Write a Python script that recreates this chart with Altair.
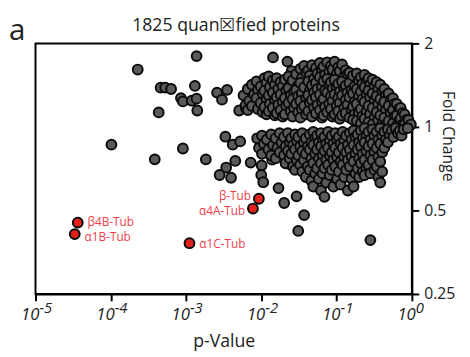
import altair as alt
import pandas as pd

FONT = "Open Sans"

# ---------------- data ----------------
# isolated grey proteins: p-value, fold change
out_p = [0.00138, 2.28e-4, 4.59e-4, 5.28e-4, 6.33e-4, 1.31e-3, 8.55e-4, 9.08e-4, 1.19e-3, 1.38e-3,
         4.33e-4, 1.41e-3, 2.58e-3, 3.51e-3, 3.0e-3, 1.02e-4, 9.08e-4, 3.84e-4, 1.83e-3, 3.33e-3,
         4.17e-3, 3.41e-3, 2.79e-3, 3.96e-3, 4.51e-3, 0.0143, 0.0222, 0.0253, 5.08e-3, 6.41e-3,
         6.22e-3, 5.24e-3, 7.22e-3, 0.0101, 9.97e-3, 0.0106, 0.0139, 0.0218, 0.0309, 0.0169,
         0.0201, 0.0294, 0.037, 0.0309, 0.281]
out_fc = [1.80, 1.61, 1.386, 1.386, 1.37, 1.405, 1.27, 1.236, 1.243, 1.264,
          1.128, 1.146, 1.33, 1.36, 1.254, 0.863, 0.836, 0.764, 0.764, 0.922,
          0.863, 0.714, 0.671, 0.656, 0.754, 1.78, 1.72, 1.59, 1.146, 1.32,
          1.17, 0.887, 0.744, 0.727, 0.671, 0.632, 0.762, 0.738, 0.727, 0.602,
          0.532, 0.562, 0.481, 0.422, 0.391]

# dense cloud, up-regulated lobe: p-value columns (two staggered p per column)
up_p = [0.0058, 0.0066, 0.0075, 0.0086, 0.0098, 0.011, 0.0125, 0.0142, 0.016, 0.018,
        0.0205, 0.023, 0.026, 0.029, 0.033, 0.037, 0.042, 0.047, 0.053, 0.06,
        0.067, 0.075, 0.084, 0.094, 0.105, 0.118, 0.132, 0.148, 0.165, 0.185,
        0.21, 0.235, 0.265, 0.30, 0.34, 0.38, 0.43, 0.49, 0.56, 0.63,
        0.71, 0.80, 0.90, 0.97]
up_p2 = [0.0062, 0.0069, 0.0080, 0.0090, 0.0104, 0.0117, 0.0130, 0.0151, 0.0168, 0.0192,
         0.0214, 0.0246, 0.0272, 0.0309, 0.0345, 0.0393, 0.0441, 0.0500, 0.0556, 0.0638,
         0.0702, 0.0797, 0.0881, 0.1000, 0.110, 0.126, 0.139, 0.157, 0.173, 0.197,
         0.220, 0.250, 0.278, 0.319, 0.356, 0.405, 0.452, 0.521, 0.588, 0.671,
         0.752, 0.85, 0.93, 0.99]
up_fc = [[1.30, 1.20], [1.37, 1.24, 1.15], [1.42, 1.31, 1.19], [1.46, 1.36, 1.27, 1.16],
         [1.40, 1.32, 1.22, 1.13], [1.50, 1.44, 1.35, 1.26, 1.18, 1.11], [1.52, 1.39, 1.30, 1.21, 1.14],
         [1.47, 1.42, 1.33, 1.25, 1.17, 1.10], [1.50, 1.37, 1.28, 1.20, 1.12],
         [1.45, 1.40, 1.31, 1.23, 1.15, 1.09], [1.48, 1.35, 1.27, 1.19, 1.11],
         [1.52, 1.43, 1.38, 1.30, 1.22, 1.14], [1.47, 1.34, 1.26, 1.17, 1.09],
         [1.55, 1.41, 1.36, 1.29, 1.21, 1.13], [1.62, 1.50, 1.44, 1.32, 1.24, 1.16, 1.08],
         [1.66, 1.57, 1.39, 1.27, 1.19, 1.11], [1.60, 1.53, 1.46, 1.35, 1.30, 1.22, 1.14],
         [1.67, 1.49, 1.41, 1.33, 1.25, 1.17, 1.09], [1.63, 1.56, 1.44, 1.37, 1.28, 1.20, 1.12],
         [1.70, 1.60, 1.51, 1.40, 1.31, 1.23, 1.15, 1.08], [1.65, 1.54, 1.46, 1.35, 1.26, 1.18, 1.10],
         [1.71, 1.58, 1.49, 1.42, 1.33, 1.21, 1.13], [1.66, 1.61, 1.45, 1.37, 1.29, 1.24, 1.16, 1.09],
         [1.72, 1.55, 1.48, 1.39, 1.31, 1.19, 1.11], [1.64, 1.59, 1.43, 1.34, 1.27, 1.22, 1.14, 1.07],
         [1.68, 1.52, 1.46, 1.38, 1.30, 1.17, 1.10], [1.60, 1.55, 1.41, 1.33, 1.25, 1.20, 1.12],
         [1.57, 1.49, 1.44, 1.36, 1.28, 1.15, 1.08], [1.53, 1.40, 1.32, 1.23, 1.18, 1.11, 1.06],
         [1.56, 1.47, 1.37, 1.29, 1.21, 1.13, 1.05], [1.51, 1.43, 1.34, 1.26, 1.16, 1.09, 1.03],
         [1.54, 1.46, 1.39, 1.31, 1.23, 1.14, 1.07], [1.50, 1.42, 1.35, 1.28, 1.19, 1.11, 1.04],
         [1.48, 1.40, 1.32, 1.25, 1.17, 1.08, 1.02], [1.45, 1.37, 1.29, 1.21, 1.13, 1.06],
         [1.42, 1.34, 1.26, 1.18, 1.10, 1.03], [1.37, 1.30, 1.23, 1.15, 1.08, 1.02],
         [1.32, 1.25, 1.19, 1.12, 1.05], [1.27, 1.21, 1.15, 1.09, 1.03], [1.21, 1.16, 1.10, 1.05, 1.01],
         [1.17, 1.12, 1.07, 1.02], [1.11, 1.06, 1.02], [1.06, 1.01], [1.02]]

# dense cloud, down-regulated lobe
dn_p = [0.0088, 0.0102, 0.0118, 0.0135, 0.0155, 0.0175, 0.020, 0.0225, 0.025, 0.028,
        0.031, 0.035, 0.039, 0.044, 0.049, 0.055, 0.062, 0.069, 0.077, 0.086,
        0.096, 0.107, 0.12, 0.134, 0.15, 0.168, 0.19, 0.21, 0.235, 0.265,
        0.30, 0.34, 0.38, 0.43, 0.48, 0.54, 0.61, 0.69, 0.78, 0.88]
dn_p2 = [0.0093, 0.0108, 0.0124, 0.0143, 0.0163, 0.0186, 0.0210, 0.0238, 0.0263, 0.0296,
         0.0328, 0.0368, 0.0413, 0.0462, 0.0518, 0.0581, 0.0652, 0.0728, 0.0812, 0.0907,
         0.1012, 0.113, 0.126, 0.141, 0.158, 0.178, 0.199, 0.222, 0.248, 0.281,
         0.317, 0.358, 0.403, 0.452, 0.508, 0.57, 0.65, 0.73, 0.82, 0.92]
dn_fc = [[0.91, 0.84], [0.93, 0.87, 0.80], [0.90, 0.83], [0.94, 0.86, 0.79], [0.91, 0.84, 0.77],
         [0.95, 0.88, 0.81], [0.92, 0.85, 0.79, 0.74], [0.95, 0.88, 0.82, 0.77], [0.91, 0.86, 0.80, 0.72],
         [0.94, 0.89, 0.83, 0.76, 0.70], [0.92, 0.85, 0.79, 0.73], [0.95, 0.88, 0.82, 0.76, 0.69],
         [0.91, 0.85, 0.80, 0.72, 0.66], [0.94, 0.88, 0.83, 0.77, 0.70, 0.64],
         [0.96, 0.91, 0.86, 0.80, 0.74, 0.68, 0.61], [0.93, 0.88, 0.83, 0.77, 0.71, 0.65],
         [0.95, 0.90, 0.85, 0.79, 0.74, 0.68, 0.59], [0.92, 0.87, 0.82, 0.76, 0.71, 0.63, 0.56],
         [0.96, 0.89, 0.84, 0.79, 0.73, 0.67], [0.93, 0.87, 0.81, 0.76, 0.70, 0.61],
         [0.95, 0.90, 0.84, 0.78, 0.72, 0.65], [0.92, 0.87, 0.81, 0.75, 0.69, 0.62],
         [0.96, 0.89, 0.84, 0.78, 0.73, 0.66], [0.93, 0.86, 0.81, 0.76, 0.70, 0.59],
         [0.95, 0.90, 0.83, 0.78, 0.72, 0.65], [0.97, 0.92, 0.86, 0.80, 0.75, 0.68, 0.61],
         [0.94, 0.88, 0.83, 0.77, 0.71, 0.66], [0.97, 0.91, 0.85, 0.80, 0.74, 0.69],
         [0.99, 0.93, 0.88, 0.82, 0.76, 0.71, 0.67], [0.96, 0.90, 0.85, 0.79, 0.73, 0.68],
         [0.98, 0.93, 0.87, 0.81, 0.76, 0.70], [0.96, 0.90, 0.84, 0.78, 0.72, 0.66],
         [0.99, 0.93, 0.87, 0.81, 0.75, 0.69, 0.63], [0.96, 0.90, 0.84], [0.98, 0.93, 0.88],
         [0.97, 0.92], [0.99, 0.95], [0.97, 0.93], [0.98], [0.99]]

# highlighted tubulins
tub_name = ["β4B-Tub", "α1B-Tub", "α1C-Tub", "β-Tub", "α4A-Tub"]
tub_p = [3.64e-5, 3.32e-5, 1.11e-3, 9.27e-3, 7.74e-3]
tub_fc = [0.452, 0.411, 0.381, 0.551, 0.508]
tub_side = ["right", "right", "right", "left", "left"]
tub_label_dy = [-1, 3, 1, -3, 3]

x_ticks = [1e-5, 1e-4, 1e-3, 1e-2, 1e-1, 1]
x_base = ["10", "10", "10", "10", "10", "10"]
x_exp = ["-5", "-4", "-3", "-2", "-1", "0"]
y_ticks = [0.25, 0.5, 1, 2]
title_text = "1825 quan☒fied proteins"

# ---------------- tables ----------------
rows = [(p, f) for p, f in zip(out_p, out_fc)]
for p1, p2, fs in zip(up_p, up_p2, up_fc):
    rows += [((p1 if i % 2 == 0 else p2), f) for i, f in enumerate(fs)]
for p1, p2, fs in zip(dn_p, dn_p2, dn_fc):
    rows += [((p1 if i % 2 == 0 else p2), f) for i, f in enumerate(fs)]
grey_df = pd.DataFrame(rows, columns=["p", "fc"])
tub_df = pd.DataFrame({"p": tub_p, "fc": tub_fc, "name": tub_name, "side": tub_side})
tick_df = pd.DataFrame({"p": x_ticks, "b": x_base, "e": x_exp})

W, H = 383, 255
xscale = alt.Scale(type="log", domain=[1e-5, 1], nice=False)
yscale = alt.Scale(type="log", base=2, domain=[0.25, 2], nice=False)

xaxis = alt.Axis(values=x_ticks, labels=False, tickSize=7, tickWidth=2, tickColor="black",
                 domainColor="black", domainWidth=2, grid=False, title="p-Value",
                 titleFontSize=18, titleFontWeight="normal", titleBaseline="alphabetic",
                 titleY=53, titleX=W / 2)
yaxis = alt.Axis(orient="right", values=y_ticks, labelExpr="format(datum.value, '~g')",
                 labelFontSize=16, labelPadding=5, labelFlush=False, labelOverlap=False,
                 labelBaseline="middle", tickSize=7, tickWidth=2, tickColor="black",
                 domainColor="black", domainWidth=2, grid=False, title="Fold Change",
                 titleAngle=90, titleX=31, titleY=94, titleAlign="center",
                 titleBaseline="alphabetic", titleFontSize=16, titleFontWeight="normal")

X = alt.X("p:Q", scale=xscale, axis=xaxis)
Y = alt.Y("fc:Q", scale=yscale, axis=yaxis)

grey = alt.Chart(grey_df).mark_circle(size=100, color="#5a5a5a", stroke="#0a0a0a",
                                      strokeWidth=2, opacity=1).encode(x=X, y=Y)
red = alt.Chart(tub_df).mark_circle(size=100, color="#e3211c", stroke="#0a0a0a",
                                    strokeWidth=2, opacity=1).encode(x=X, y=Y)
labels = []
for name, side, dy in zip(tub_name, tub_side, tub_label_dy):
    labels.append(
        alt.Chart(tub_df).transform_filter(alt.datum.name == name).mark_text(
            align="left" if side == "right" else "right", baseline="middle",
            dx=10 if side == "right" else -8, dy=dy, fontSize=12, font=FONT, color="#ee3e4c"
        ).encode(x=X, y=Y, text="name:N"))
bases = alt.Chart(tick_df).mark_text(align="right", baseline="alphabetic", dx=4, fontSize=17,
                                     fontStyle="italic", font=FONT, color="#222").encode(
    x=X, y=alt.value(H + 26), text="b:N")
exps = alt.Chart(tick_df).mark_text(align="left", baseline="alphabetic", dx=4, fontSize=15,
                                    fontStyle="italic", font=FONT, color="#222").encode(
    x=X, y=alt.value(H + 19), text="e:N")
panel = alt.Chart(pd.DataFrame({"t": ["a"]})).mark_text(
    align="left", baseline="alphabetic", fontSize=30, font=FONT, color="#222"
).encode(x=alt.value(-27), y=alt.value(-3), text="t:N")
title = alt.Chart(pd.DataFrame({"t": [title_text]})).mark_text(
    align="center", baseline="alphabetic", fontSize=18, font=FONT, color="#222"
).encode(x=alt.value(204), y=alt.value(-13), text="t:N")

chart = alt.layer(grey, red, *labels, bases, exps, panel, title).properties(
    width=W, height=H,
    autosize=alt.AutoSizeParams(type="none"),
    padding={"left": 28, "top": 33, "right": 51, "bottom": 55},
).configure_view(stroke="black", strokeWidth=2).configure_axis(
    labelFont=FONT, titleFont=FONT, labelColor="#222", titleColor="#222")

chart.save("out.html", embed_options={"renderer": "svg", "actions": False})
